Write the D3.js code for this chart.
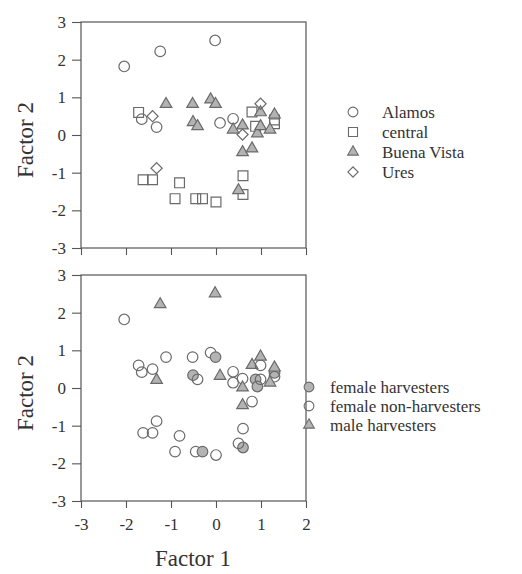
<!DOCTYPE html>
<html>
<head>
<meta charset="utf-8">
<script src="https://cdn.jsdelivr.net/npm/d3@7"></script>
<style>
  body { margin: 0; background: #fff; }
  svg { display: block; }
  text { font-family: "Liberation Serif", "DejaVu Serif", serif; fill: #333; }
</style>
</head>
<body>
<svg id="drawing_region"></svg>
<script>
// categories
const siteNames = ["Alamos", "central", "Buena Vista", "Ures"];
const groupNames = ["female harvesters", "female non-harvesters", "male harvesters"];

// factor scores (same individuals in both panels)
const factor1 = [-2.04, -1.24, -0.02, -1.65, -1.32, 0.09, 0.38,
                 -1.72, -1.62, -1.41, -0.81, -0.91, -0.45, -0.30, 0.00, 0.60, 0.60, 0.80, 0.88, 1.30, 1.30,
                 -1.11, -0.52, -0.12, -0.01, -0.51, -0.41, 0.38, 0.59, 0.59, 0.80, 0.50, 0.92, 0.99, 0.99, 1.20, 1.30,
                 -1.41, -1.32, 0.59, 0.99];
const factor2 = [1.82, 2.22, 2.51, 0.42, 0.21, 0.32, 0.43,
                 0.60, -1.19, -1.19, -1.27, -1.69, -1.69, -1.69, -1.78, -1.08, -1.58, 0.61, 0.23, 0.40, 0.30,
                 0.82, 0.82, 0.94, 0.82, 0.34, 0.23, 0.14, 0.25, -0.46, -0.36, -1.47, 0.04, 0.60, 0.23, 0.14, 0.54,
                 0.50, -0.88, 0.01, 0.83];
const siteOf = ["Alamos", "Alamos", "Alamos", "Alamos", "Alamos", "Alamos", "Alamos",
                "central", "central", "central", "central", "central", "central", "central", "central", "central", "central", "central", "central", "central", "central",
                "Buena Vista", "Buena Vista", "Buena Vista", "Buena Vista", "Buena Vista", "Buena Vista", "Buena Vista", "Buena Vista",
                "Buena Vista", "Buena Vista", "Buena Vista", "Buena Vista", "Buena Vista", "Buena Vista", "Buena Vista", "Buena Vista",
                "Ures", "Ures", "Ures", "Ures"];
const groupOf = ["female non-harvesters", "male harvesters", "male harvesters", "female non-harvesters", "male harvesters", "male harvesters", "female non-harvesters",
                 "female non-harvesters", "female non-harvesters", "female non-harvesters", "female non-harvesters", "female non-harvesters", "female non-harvesters",
                 "female harvesters", "female non-harvesters", "female non-harvesters", "female harvesters", "male harvesters", "female harvesters",
                 "female harvesters", "female non-harvesters",
                 "female non-harvesters", "female non-harvesters", "female non-harvesters", "female harvesters", "female harvesters", "female non-harvesters",
                 "female non-harvesters", "female non-harvesters", "male harvesters", "female non-harvesters", "female non-harvesters", "female harvesters",
                 "female non-harvesters", "female non-harvesters", "male harvesters", "male harvesters",
                 "female non-harvesters", "female non-harvesters", "male harvesters", "male harvesters"];

// tick labels
const xTicks = [-3, -2, -1, 0, 1, 2];
const yTicks = [-3, -2, -1, 0, 1, 2, 3];

const points = factor1.map((f, i) => ({ f1: f, f2: factor2[i], site: siteOf[i], group: groupOf[i] }));

const GREY = "#b3b3b3";
const STROKE = "#6a6a6a";

// marker styles
const siteStyle = {
    "Alamos":      { type: d3.symbolCircle,   size: 88, rot: 0,  fill: "none" },
    "central":     { type: d3.symbolSquare,   size: 96, rot: 0,  fill: "none" },
    "Buena Vista": { type: d3.symbolTriangle, size: 58, rot: 0,  fill: GREY },
    "Ures":        { type: d3.symbolSquare,   size: 62, rot: 45, fill: "none" }
};
const groupStyle = {
    "female harvesters":     { type: d3.symbolCircle,   size: 88, rot: 0, fill: GREY },
    "female non-harvesters": { type: d3.symbolCircle,   size: 88, rot: 0, fill: "none" },
    "male harvesters":       { type: d3.symbolTriangle, size: 58, rot: 0, fill: GREY }
};

const svg = d3.select('#drawing_region')
    .attr('width', 522)
    .attr('height', 574);

const xScale = d3.scaleLinear().domain([-3, 2]).range([81, 306]);

// plain hyphen for negatives, like the original
const fmt = d => String(d);

function drawPanel(top, bottom, key, styles, showXLabels) {
    const yScale = d3.scaleLinear().domain([-3, 3]).range([bottom, top]);
    const g = svg.append('g');

    const yAxis = g.append('g')
        .attr('transform', `translate(${xScale.range()[0]},0)`)
        .call(d3.axisLeft(yScale).tickValues(yTicks).tickFormat(fmt)
            .tickSize(9).tickSizeOuter(0).tickPadding(6));

    const xAxis = g.append('g')
        .attr('transform', `translate(0,${bottom})`)
        .call(d3.axisBottom(xScale).tickValues(xTicks)
            .tickFormat(showXLabels ? fmt : '')
            .tickSize(7).tickSizeOuter(0).tickPadding(10));

    [yAxis, xAxis].forEach(a => {
        a.select('.domain').remove();
        a.selectAll('line').attr('stroke', '#555').attr('stroke-width', 1.1);
        a.selectAll('text')
            .style('font-family', '"Liberation Serif", serif')
            .style('font-size', '17px')
            .attr('fill', '#333');
    });

    g.append('rect')
        .attr('x', xScale.range()[0])
        .attr('y', top)
        .attr('width', xScale.range()[1] - xScale.range()[0])
        .attr('height', bottom - top)
        .attr('fill', 'none')
        .attr('stroke', '#555')
        .attr('stroke-width', 1.2);

    g.selectAll('path.mark')
        .data(points)
        .join('path')
        .attr('class', 'mark')
        .attr('d', d => d3.symbol(styles[d[key]].type, styles[d[key]].size)())
        .attr('transform', d => `translate(${xScale(d.f1)},${yScale(d.f2)}) rotate(${styles[d[key]].rot})`)
        .attr('fill', d => styles[d[key]].fill)
        .attr('stroke', STROKE)
        .attr('stroke-width', 1.2);

    g.append('text')
        .attr('transform', `translate(33,${(top + bottom) / 2 + 5}) rotate(-90)`)
        .attr('text-anchor', 'middle')
        .style('font-size', '23px')
        .text('Factor 2');
}

function drawLegend(names, styles, symX, textX, y0, step) {
    const lg = svg.append('g');
    const rows = lg.selectAll('g')
        .data(names)
        .join('g')
        .attr('transform', (d, i) => `translate(0,${y0 + i * step})`);
    rows.append('path')
        .attr('d', d => d3.symbol(styles[d].type, styles[d].size * 0.85)())
        .attr('transform', d => `translate(${symX},0) rotate(${styles[d].rot})`)
        .attr('fill', d => styles[d].fill)
        .attr('stroke', STROKE)
        .attr('stroke-width', 1.1);
    rows.append('text')
        .attr('x', textX)
        .attr('y', 6)
        .style('font-size', '17px')
        .text(d => d);
}

drawPanel(22, 248, 'site', siteStyle, false);
drawPanel(275, 501, 'group', groupStyle, true);

drawLegend(siteNames, siteStyle, 353, 382, 112, 20);
drawLegend(groupNames, groupStyle, 309, 330, 387, 19);

svg.append('text')
    .attr('x', 193)
    .attr('y', 566)
    .attr('text-anchor', 'middle')
    .style('font-size', '23px')
    .text('Factor 1');
</script>
</body>
</html>
